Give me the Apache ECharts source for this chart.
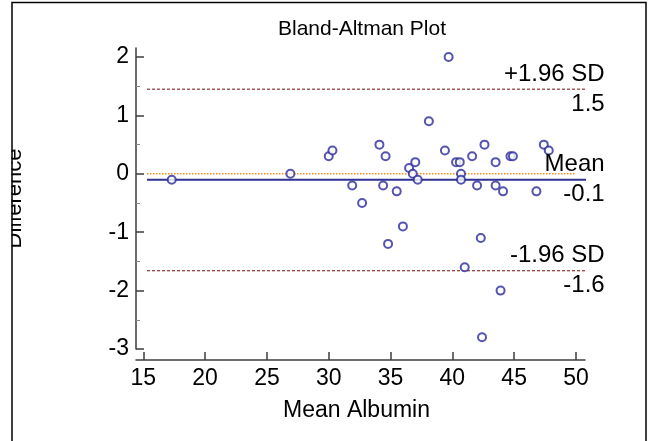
<!DOCTYPE html>
<html><head><meta charset="utf-8">
<script src="https://cdn.jsdelivr.net/npm/echarts@6/dist/echarts.min.js"></script>
<style>html,body{margin:0;padding:0;background:#fff}#c{width:657px;height:441px}</style>
</head><body><div id="c"></div>
<script>
// ---- data ----
const meanAlbumin = [17.3, 26.9, 30.0, 30.3, 31.9, 32.7, 34.1, 34.4, 34.6, 34.8, 35.5, 36.0, 36.5, 36.8, 37.0, 37.2, 38.1, 39.4, 39.7, 40.3, 40.6, 40.7, 40.7, 41.0, 41.6, 42.0, 42.3, 42.4, 42.6, 43.5, 43.5, 43.9, 44.1, 44.7, 44.9, 46.8, 47.4, 47.8];
const difference  = [-0.1, 0.0, 0.3, 0.4, -0.2, -0.5, 0.5, -0.2, 0.3, -1.2, -0.3, -0.9, 0.1, 0.0, 0.2, -0.1, 0.9, 0.4, 2.0, 0.2, 0.2, 0.0, -0.1, -1.6, 0.3, -0.2, -1.1, -2.8, 0.5, 0.2, -0.2, -2.0, -0.3, 0.3, 0.3, -0.3, 0.5, 0.4];
const xTicks = [15, 20, 25, 30, 35, 40, 45, 50];
const yTicks = [-3, -2, -1, 0, 1, 2];
const yMinorTicks = [-2.5, -1.5, -0.5, 0.5, 1.5];
const meanDiff = -0.1;
const upperLoA = 1.45;
const lowerLoA = -1.66;
const zeroLine = 0;
const lineStartX = 15.3, lineEndX = 52.4, zeroEndX = 50;
const upperLabels = ['+1.96 SD', '1.5'];
const meanLabels = ['Mean', '-0.1'];
const lowerLabels = ['-1.96 SD', '-1.6'];

const FONT = '"Liberation Sans", Arial, sans-serif';
const axisColor = '#3c3c3c';
const chart = echarts.init(document.getElementById('c'));

const scatterData = meanAlbumin.map((x, i) => [x, difference[i]]);
function hline(y, x0, x1, color, type, width) {
  return {
    type: 'line', data: [[x0, y], [x1, y]], symbol: 'none', clip: false, silent: true,
    lineStyle: { color: color, type: type, width: width }, z: 1
  };
}

chart.setOption({
  animation: false,
  backgroundColor: '#fff',
  title: {
    text: 'Bland-Altman Plot', left: 357, top: 14, textAlign: 'center',
    textStyle: { fontFamily: FONT, fontSize: 21, fontWeight: 'normal', color: '#000' }
  },
  grid: { left: 136, right: 72, top: 48, bottom: 92, outerBoundsMode: 'none', containLabel: false },
  xAxis: {
    type: 'value', min: 14.41, max: 50.73, offset: 11,
    name: 'Mean Albumin', nameLocation: 'middle', nameGap: 39,
    nameTextStyle: { fontFamily: FONT, fontSize: 23, color: '#000', padding: [0, 8, 0, 0] },
    axisLine: { onZero: false, lineStyle: { color: axisColor, width: 1.5 } },
    axisTick: { inside: true, length: 8, customValues: xTicks, lineStyle: { color: axisColor, width: 1.5 } },
    axisLabel: { customValues: xTicks, margin: 7, fontFamily: FONT, fontSize: 23, color: '#000' },
    splitLine: { show: false }
  },
  yAxis: [{
    type: 'value', min: -3, max: 2.155, position: 'left',
    name: 'Difference', nameLocation: 'middle', nameGap: 110, nameRotate: 90,
    nameTextStyle: { fontFamily: FONT, fontSize: 22, color: '#000' },
    axisLine: { onZero: false, lineStyle: { color: axisColor, width: 1.5 } },
    axisTick: { inside: true, length: 8, customValues: yTicks, lineStyle: { color: axisColor, width: 1.5 } },
    axisLabel: { customValues: yTicks, margin: 7, fontFamily: FONT, fontSize: 23, color: '#000' },
    splitLine: { show: false }
  }, {
    type: 'value', min: -3, max: 2.155, position: 'left', offset: 0,
    axisLine: { show: false, onZero: false },
    axisTick: { inside: true, length: 4, customValues: yMinorTicks, lineStyle: { color: '#888', width: 1 } },
    axisLabel: { show: false },
    splitLine: { show: false }
  }],
  series: [
    hline(zeroLine, lineStartX, zeroEndX, '#ff8c1a', 'dotted', 1.5),
    hline(upperLoA, lineStartX, lineEndX, '#7a0a0a', [3, 2], 1),
    hline(lowerLoA, lineStartX, lineEndX, '#7a0a0a', [3, 2], 1),
    hline(meanDiff, lineStartX, lineEndX, '#2e3192', 'solid', 2),
    {
      type: 'scatter', data: scatterData, symbol: 'emptyCircle', symbolSize: 8,
      itemStyle: { color: '#2b2b9b', borderWidth: 1.3 }, z: 3
    }
  ]
});

// annotation text next to the limit lines, positioned from data values
function labelPair(yVal, texts) {
  const p = chart.convertToPixel({ gridIndex: 0 }, [lineEndX, yVal]);
  const style = { fontFamily: FONT, fontSize: 24, fill: '#000', align: 'right', verticalAlign: 'middle' };
  return [
    { type: 'text', x: p[0] - 1, y: p[1] - 15, style: Object.assign({ text: texts[0] }, style), z: 10 },
    { type: 'text', x: p[0] - 1, y: p[1] + 15, style: Object.assign({ text: texts[1] }, style), z: 10 }
  ];
}
const graphics = [].concat(
  labelPair(upperLoA, upperLabels),
  labelPair(meanDiff, meanLabels),
  labelPair(lowerLoA, lowerLabels),
  [
    { type: 'rect', shape: { x: 0, y: 0, width: 11.5, height: 441 }, style: { fill: '#fff' }, z: 100 },
    { type: 'rect', shape: { x: 12, y: 2.5, width: 634, height: 470 }, style: { fill: 'none', stroke: '#000', lineWidth: 1.5 }, z: 101 }
  ]
);
chart.setOption({ graphic: graphics });
</script>
</body></html>
